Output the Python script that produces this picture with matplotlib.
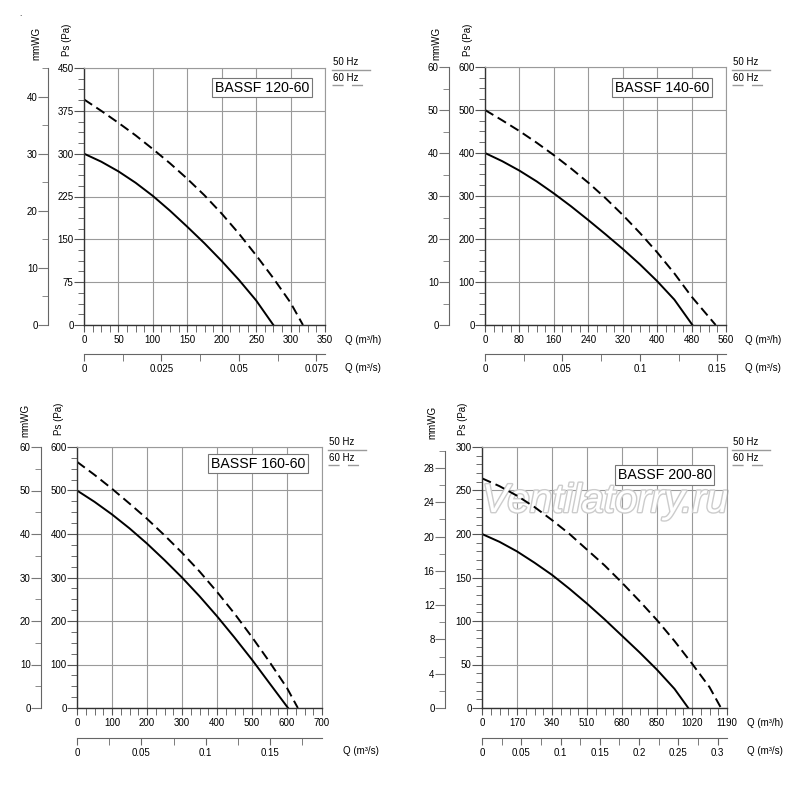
"""Fan performance curves for the BASSF series (50 Hz / 60 Hz)."""

import matplotlib.pyplot as plt
import matplotlib.patheffects as pe
from matplotlib.lines import Line2D
from matplotlib.ticker import MultipleLocator, FuncFormatter

plt.rcParams['font.family'] = ['Liberation Sans', 'DejaVu Sans']
plt.rcParams['font.size'] = 7

W, H = 800, 797

# --- data: Q in m3/h, Ps in Pa -------------------------------------------
q50_120 = [0, 25, 50, 75, 100, 125, 150, 175, 200, 225, 250, 275]
p50_120 = [300, 286, 269, 249, 226, 200, 172, 143, 112, 79, 43, 0]
q60_120 = [0, 25, 50, 75, 100, 125, 150, 175, 200, 225, 250, 275, 300, 318]
p60_120 = [395, 375, 354, 332, 308, 283, 256, 227, 195, 160, 122, 82, 39, 0]

q50_140 = [0, 40, 80, 120, 160, 200, 240, 280, 320, 360, 400, 440, 482]
p50_140 = [400, 381, 359, 334, 306, 276, 244, 211, 177, 141, 102, 59, 0]
q60_140 = [0, 40, 80, 120, 160, 200, 240, 280, 320, 360, 400, 440, 480, 536]
p60_140 = [500, 476, 451, 424, 395, 364, 331, 295, 256, 214, 169, 120, 66, 0]

q50_160 = [0, 50, 100, 150, 200, 250, 300, 350, 400, 450, 500, 550, 603]
p50_160 = [500, 474, 445, 413, 378, 340, 300, 257, 211, 162, 111, 57, 0]
q60_160 = [0, 50, 100, 150, 200, 250, 300, 350, 400, 450, 500, 550, 600, 631]
p60_160 = [566, 536, 504, 470, 435, 397, 357, 314, 267, 217, 163, 106, 46, 0]

q50_200 = [0, 85, 170, 255, 340, 425, 510, 595, 680, 765, 850, 935, 1002]
p50_200 = [200, 191, 180, 167, 153, 137, 120, 102, 83, 64, 44, 22, 0]
q60_200 = [0, 85, 170, 255, 340, 425, 510, 595, 680, 765, 850, 935, 1020, 1105, 1161]
p60_200 = [264, 255, 244, 231, 216, 200, 182, 164, 144, 123, 101, 77, 51, 24, 0]

models = ['BASSF 120-60', 'BASSF 140-60', 'BASSF 160-60', 'BASSF 200-80']

# --- layout per panel (pixel coordinates of the reference) ----------------
panels = [
    dict(box=(84, 68, 325, 325), qmax=350, qstep=50, pmax=450, pstep=75, pminor=18.75,
         mm_x=48, mm_lim=45, mm_top=45, mm_step=10, mm_minor=5,
         smax=0.0778, sstep=0.025, sminor=0.0125, s_y=354,
         mm_lab=(36, 43), ps_lab=(67, 40), leg=(333, 62), title_at=(262, 87.5),
         qh_lab=(345, 340), qs_lab=(345, 368)),
    dict(box=(485, 67, 726, 325), qmax=560, qstep=80, pmax=600, pstep=100, pminor=25,
         mm_x=449, mm_lim=60, mm_top=60, mm_step=10, mm_minor=5,
         smax=0.1556, sstep=0.05, sminor=0.025, s_y=354,
         mm_lab=(436, 43), ps_lab=(468, 40), leg=(733, 62), title_at=(662, 87.5),
         qh_lab=(745, 340), qs_lab=(745, 368)),
    dict(box=(77, 447, 322, 708), qmax=700, qstep=100, pmax=600, pstep=100, pminor=25,
         mm_x=41, mm_lim=60, mm_top=60, mm_step=10, mm_minor=5,
         smax=0.1902, sstep=0.05, sminor=0.025, s_y=738,
         mm_lab=(25, 420), ps_lab=(59, 419), leg=(329, 442), title_at=(258, 463.5),
         qh_lab=None, qs_lab=(343, 751)),
    dict(box=(482, 447, 727, 708), qmax=1190, qstep=170, pmax=300, pstep=50, pminor=10,
         mm_x=445, mm_lim=30.45, mm_top=30, mm_step=4, mm_minor=2,
         smax=0.3119, sstep=0.05, sminor=0.025, s_y=738,
         mm_lab=(432, 422), ps_lab=(463, 419), leg=(733, 442), title_at=(664.5, 475),
         qh_lab=(747, 723), qs_lab=(747, 751)),
]

curves = [
    (q50_120, p50_120, q60_120, p60_120),
    (q50_140, p50_140, q60_140, p60_140),
    (q50_160, p50_160, q60_160, p60_160),
    (q50_200, p50_200, q60_200, p60_200),
]

GRID = '#9a9a9a'
TICK = '#555555'


def rect(x0, y0, x1, y1):
    return [x0 / W, 1 - y1 / H, (x1 - x0) / W, (y1 - y0) / H]


def fx(x):
    return x / W


def fy(y):
    return 1 - y / H


num_fmt = FuncFormatter(lambda v, pos: f'{round(v, 6):g}')


def strip_axes(ax, keep):
    ax.patch.set_visible(False)
    for side in ['left', 'right', 'top', 'bottom']:
        ax.spines[side].set_visible(side == keep)


fig = plt.figure(figsize=(W / 100, H / 100), dpi=100)

for cfg, (q50, p50, q60, p60), name in zip(panels, curves, models):
    x0, y0, x1, y1 = cfg['box']

    # main chart
    ax = fig.add_axes(rect(x0, y0, x1, y1))
    ax.set_xlim(0, cfg['qmax'])
    ax.set_ylim(0, cfg['pmax'])
    ax.xaxis.set_major_locator(MultipleLocator(cfg['qstep']))
    ax.xaxis.set_minor_locator(MultipleLocator(cfg['qstep'] / 4))
    ax.yaxis.set_major_locator(MultipleLocator(cfg['pstep']))
    ax.yaxis.set_minor_locator(MultipleLocator(cfg['pminor']))
    ax.xaxis.set_major_formatter(num_fmt)
    ax.grid(which='major', color=GRID, lw=0.8)
    ax.tick_params(which='both', direction='out', color=TICK, labelsize=7)
    ax.tick_params(axis='x', which='both', length=5, pad=2)
    ax.tick_params(axis='y', which='major', length=7, pad=0.5)
    ax.tick_params(axis='y', which='minor', length=4)
    for side in ['top', 'right']:
        ax.spines[side].set_color(GRID)
        ax.spines[side].set_linewidth(0.8)
    for side in ['left', 'bottom']:
        ax.spines[side].set_color('#333333')
        ax.spines[side].set_linewidth(1.0)

    ax.plot(q50, p50, color='black', lw=1.4, solid_joinstyle='round')
    ax.plot(q60, p60, color='black', lw=1.4, linestyle=(0, (5, 2.6)))

    # mmWG axis
    mm = fig.add_axes(rect(cfg['mm_x'], y0, cfg['mm_x'] + 1, y1))
    strip_axes(mm, 'left')
    mm.set_ylim(0, cfg['mm_lim'])
    mm.spines['left'].set_bounds(0, cfg['mm_top'])
    mm.spines['left'].set_color('#666666')
    mm.set_xticks([])
    mm.yaxis.set_major_locator(MultipleLocator(cfg['mm_step']))
    mm.yaxis.set_minor_locator(MultipleLocator(cfg['mm_minor']))
    mm.yaxis.set_major_formatter(num_fmt)
    mm.set_yticks([t for t in mm.get_yticks() if t <= cfg['mm_top'] + 1e-9])
    mm.set_ylim(0, cfg['mm_lim'])
    mm.tick_params(which='major', length=7, pad=0.5, color='#777777', labelsize=7)
    mm.tick_params(which='minor', length=4, color='#777777')

    # m3/s axis
    sx = fig.add_axes(rect(x0, cfg['s_y'] - 1, x1, cfg['s_y']))
    strip_axes(sx, 'bottom')
    sx.spines['bottom'].set_color('#666666')
    sx.set_xlim(0, cfg['smax'])
    sx.set_yticks([])
    sx.xaxis.set_major_locator(MultipleLocator(cfg['sstep']))
    sx.xaxis.set_minor_locator(MultipleLocator(cfg['sminor']))
    sx.xaxis.set_major_formatter(num_fmt)
    sx.tick_params(which='both', length=5, pad=2, color='#666666', labelsize=7)

    # axis titles
    fig.text(fx(cfg['mm_lab'][0]), fy(cfg['mm_lab'][1]), 'mmWG', rotation=90,
             ha='center', va='center', fontsize=7)
    fig.text(fx(cfg['ps_lab'][0]), fy(cfg['ps_lab'][1]), 'Ps (Pa)', rotation=90,
             ha='center', va='center', fontsize=7)
    if cfg['qh_lab'] is not None:
        fig.text(fx(cfg['qh_lab'][0]), fy(cfg['qh_lab'][1]), 'Q (m³/h)',
                 ha='left', va='center', fontsize=7)
    fig.text(fx(cfg['qs_lab'][0]), fy(cfg['qs_lab'][1]), 'Q (m³/s)',
             ha='left', va='center', fontsize=7)

    # model name box
    fig.text(fx(cfg['title_at'][0]), fy(cfg['title_at'][1]), name,
             ha='center', va='center', fontsize=10.2,
             bbox=dict(boxstyle='square,pad=0.18', fc='white', ec='#777777', lw=0.8))

    # 50/60 Hz key
    lx, ly = cfg['leg']
    fig.text(fx(lx), fy(ly), '50 Hz', ha='left', va='center', fontsize=7)
    fig.text(fx(lx), fy(ly + 16), '60 Hz', ha='left', va='center', fontsize=7)
    fig.add_artist(Line2D([fx(lx - 1), fx(lx + 37)], [fy(ly + 8), fy(ly + 8)],
                          transform=fig.transFigure, color=GRID, lw=1.0))
    fig.add_artist(Line2D([fx(lx - 1), fx(lx + 37)], [fy(ly + 23), fy(ly + 23)],
                          transform=fig.transFigure, color=GRID, lw=1.0,
                          linestyle=(0, (8, 6))))

    if name == 'BASSF 200-80':
        # site watermark, outlined letters
        ax.text(fx(605), fy(512), 'Ventilatorry.ru', transform=fig.transFigure,
                ha='center', va='baseline', fontsize=29, style='italic',
                color='white', zorder=1.8, clip_on=False,
                path_effects=[pe.withStroke(linewidth=2.0, foreground='#cccccc')])

fig.text(fx(20), fy(14), '.', ha='center', va='center', fontsize=6)

fig.savefig('out.png', dpi=100)
